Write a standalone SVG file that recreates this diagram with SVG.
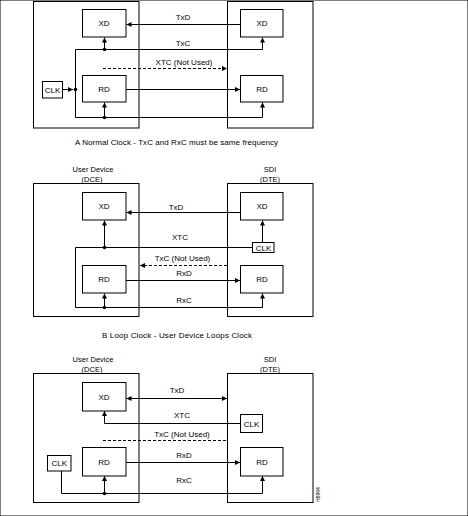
<svg xmlns="http://www.w3.org/2000/svg" width="468" height="516" viewBox="0 0 468 516">
<style>
rect{fill:none;stroke:#000;stroke-width:1}
.box{fill:#fff}
text{font-family:"Liberation Sans",Arial,sans-serif;font-size:8px;fill:#000;text-anchor:middle}
.hd{font-size:7.5px}
.ln{fill:none;stroke:#000;stroke-width:1}
.arr{marker-end:url(#ah)}
.dash{stroke-dasharray:3,2}
.dot{fill:#000}
</style>
<defs>
<marker id="ah" markerWidth="6" markerHeight="6" refX="5" refY="2.5" orient="auto" markerUnits="userSpaceOnUse">
<path d="M0,0 L5,2.5 L0,5 z" fill="#000"/>
</marker>
<marker id="ahs" markerWidth="6" markerHeight="6" refX="0" refY="2.5" orient="auto" markerUnits="userSpaceOnUse">
<path d="M5,0 L0,2.5 L5,5 z" fill="#000"/>
</marker>
</defs>
<rect x="0" y="0" width="468" height="516" fill="#fff" stroke="none"/>

<!-- Section A -->
<g id="a-dce"><rect x="33.5" y="1.5" width="105.5" height="126.5"/></g>
<g id="a-dte"><rect x="227.5" y="1.5" width="85.5" height="126.5"/></g>
<g id="a-xd-l"><rect class="box" x="82.5" y="9.5" width="43.5" height="27.5"/><text x="104" y="26">XD</text></g>
<g id="a-xd-r"><rect class="box" x="240.5" y="9.5" width="42.5" height="27.5"/><text x="262" y="26">XD</text></g>
<g id="a-rd-l"><rect class="box" x="82.5" y="75.5" width="43.5" height="26.5"/><text x="104" y="91.5">RD</text></g>
<g id="a-rd-r"><rect class="box" x="240.5" y="75.5" width="42.5" height="26.5"/><text x="262" y="91.5">RD</text></g>
<g id="a-clk"><rect class="box" x="42.5" y="81.5" width="20" height="16.5"/><text x="52.5" y="92.5">CLK</text></g>

<!-- Section B -->
<g id="b-dce"><rect x="33.5" y="183.5" width="105.5" height="133"/><text class="hd" x="93" y="172">User Device</text><text class="hd" x="92" y="182">(DCE)</text></g>
<g id="b-dte"><rect x="227.5" y="183.5" width="85.5" height="133"/><text class="hd" x="270" y="172">SDI</text><text class="hd" x="270" y="182">(DTE)</text></g>
<g id="b-xd-l"><rect class="box" x="82.5" y="192.5" width="43.5" height="27.5"/><text x="104" y="209">XD</text></g>
<g id="b-xd-r"><rect class="box" x="240.5" y="192.5" width="42.5" height="27.5"/><text x="262" y="209">XD</text></g>
<g id="b-rd-l"><rect class="box" x="82.5" y="265.5" width="43.5" height="27.5"/><text x="104" y="282">RD</text></g>
<g id="b-rd-r"><rect class="box" x="240.5" y="265.5" width="42.5" height="27.5"/><text x="262" y="282">RD</text></g>
<g id="b-clk"><rect class="box" x="252.5" y="242.5" width="21.5" height="10"/><text x="263.5" y="250.5">CLK</text></g>

<!-- Section C -->
<g id="c-dce"><rect x="33.5" y="373.5" width="105.5" height="129"/><text class="hd" x="93" y="362">User Device</text><text class="hd" x="92" y="372">(DCE)</text></g>
<g id="c-dte"><rect x="227.5" y="373.5" width="85.5" height="129"/><text class="hd" x="270" y="362">SDI</text><text class="hd" x="270" y="372">(DTE)</text></g>
<g id="c-xd-l"><rect class="box" x="82.5" y="382.5" width="43.5" height="28.5"/><text x="104" y="399.5">XD</text></g>
<g id="c-clk-r"><rect class="box" x="240.5" y="414.5" width="22" height="18"/><text x="251.5" y="426.5">CLK</text></g>
<g id="c-rd-l"><rect class="box" x="82.5" y="447.5" width="43.5" height="28.5"/><text x="104" y="464.5">RD</text></g>
<g id="c-rd-r"><rect class="box" x="240.5" y="447.5" width="42.5" height="28.5"/><text x="262" y="464.5">RD</text></g>
<g id="c-clk-l"><rect class="box" x="47.5" y="455.5" width="23.5" height="15.5"/><text x="59.3" y="466">CLK</text></g>

<g id="connectors">
<!-- A -->
<path class="ln arr" d="M240.5,24.5 H126.5"/>
<path class="ln arr" d="M75.5,49.5 H262.5 V37.5"/>
<path class="ln arr" d="M104.5,49.5 V37.5"/>
<path class="ln arr" d="M75.5,49.5 V117.5 H262.5 V102.5"/>
<path class="ln arr" d="M104.5,117.5 V102.5"/>
<path class="ln arr" d="M62.5,89.5 H73"/>
<path class="ln dash arr" d="M103,68.5 H227"/>
<path class="ln arr" d="M126,89.5 H240"/>
<circle class="dot" cx="104.5" cy="49.5" r="1.8"/>
<circle class="dot" cx="104.5" cy="117.5" r="1.8"/>
<circle class="dot" cx="75.5" cy="89.5" r="1.8"/>
<text x="183" y="20">TxD</text>
<text x="183" y="45.5">TxC</text>
<text x="184" y="64.5">XTC (Not Used)</text>
<!-- B -->
<path class="ln arr" d="M240.5,212.5 H126.5"/>
<path class="ln" d="M252.5,247.5 H75.5 V307.5 H262.5 V293.5"/>
<path class="ln arr" d="M262.5,307.5 V293.5"/>
<path class="ln arr" d="M104.5,247.5 V220.5"/>
<path class="ln arr" d="M104.5,307.5 V293.5"/>
<path class="ln arr" d="M262.5,242.5 V220.5"/>
<path class="ln dash arr" d="M227,265.5 H140"/>
<path class="ln arr" d="M126,280.5 H240"/>
<circle class="dot" cx="104.5" cy="247.5" r="1.8"/>
<circle class="dot" cx="104.5" cy="307.5" r="1.8"/>
<text x="176" y="210">TxD</text>
<text x="180" y="240">XTC</text>
<text x="182.5" y="261">TxC (Not Used)</text>
<text x="184" y="275.5">RxD</text>
<text x="184" y="303">RxC</text>
<!-- C -->
<path class="ln arr" d="M126.5,398.5 H227" marker-start="url(#ahs)"/>
<path class="ln arr" d="M240.5,423.5 H104.5 V411"/>
<path class="ln dash" d="M103,440.5 H227"/>
<path class="ln arr" d="M126,462.5 H240"/>
<path class="ln arr" d="M61.5,471 V493.5 H262.5 V476"/>
<path class="ln arr" d="M104.5,493.5 V476"/>
<circle class="dot" cx="104.5" cy="493.5" r="1.8"/>
<text x="177" y="393">TxD</text>
<text x="182" y="418">XTC</text>
<text x="182" y="437">TxC (Not Used)</text>
<text x="184" y="457.5">RxD</text>
<text x="184" y="483">RxC</text>
</g>

<text x="176.5" y="145" textLength="203" lengthAdjust="spacing">A Normal Clock - TxC and RxC must be same frequency</text>
<text x="177" y="337.5" textLength="150" lengthAdjust="spacing">B Loop Clock - User Device Loops Clock</text>
<text x="320" y="494.5" transform="rotate(-90 320 494.5)" style="font-size:5px">H8994</text>
</svg>
